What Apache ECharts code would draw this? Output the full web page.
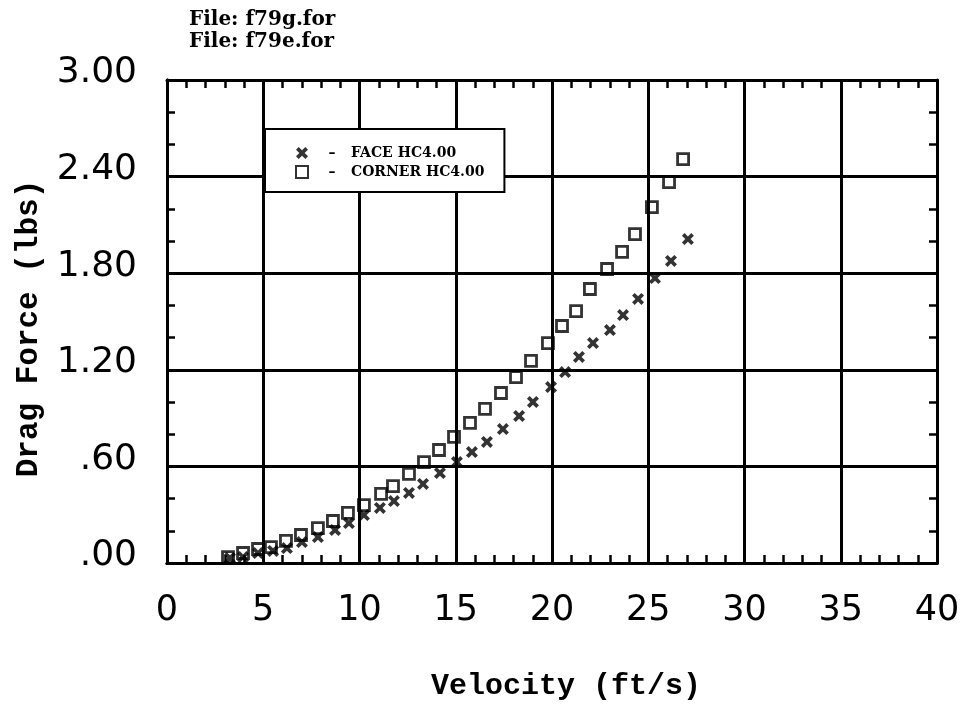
<!DOCTYPE html>
<html>
<head>
<meta charset="utf-8">
<script src="https://cdn.jsdelivr.net/npm/echarts@6/dist/echarts.min.js"></script>
<style>
  html, body { margin: 0; padding: 0; background: #fff; }
  #chart { width: 963px; height: 708px; }
</style>
</head>
<body>
<div id="chart"></div>
<script>
// FACE HC4.00 (x markers)
var faceVelocity = [3.27, 3.95, 4.73, 5.51, 6.23, 7.01, 7.84, 8.73, 9.45, 10.23, 11.06, 11.79, 12.57, 13.30, 14.18, 15.06,
  15.84, 16.62, 17.45, 18.29, 19.01, 19.95, 20.68, 21.40, 22.13, 23.01, 23.69, 24.47, 25.35, 26.18, 27.06];
var faceForce = [0.031, 0.037, 0.062, 0.075, 0.093, 0.130, 0.161, 0.205, 0.248, 0.298, 0.342, 0.385, 0.435, 0.491, 0.559, 0.627,
  0.689, 0.752, 0.832, 0.913, 1.000, 1.093, 1.186, 1.280, 1.366, 1.447, 1.540, 1.640, 1.770, 1.876, 2.012];

// CORNER HC4.00 (open squares)
var cornerVelocity = [3.17, 3.95, 4.73, 5.40, 6.18, 6.96, 7.84, 8.62, 9.40, 10.23, 11.12, 11.74, 12.57, 13.35, 14.13, 14.91,
  15.74, 16.52, 17.35, 18.13, 18.91, 19.79, 20.52, 21.25, 21.97, 22.86, 23.64, 24.31, 25.19, 26.08, 26.81];
var cornerForce = [0.037, 0.062, 0.087, 0.099, 0.137, 0.174, 0.217, 0.261, 0.311, 0.360, 0.429, 0.478, 0.553, 0.627, 0.702, 0.783,
  0.870, 0.957, 1.056, 1.155, 1.255, 1.366, 1.472, 1.565, 1.702, 1.826, 1.932, 2.043, 2.211, 2.366, 2.509];

var yTickLabels = ['.00', '.60', '1.20', '1.80', '2.40', '3.00'];
var xTickLabels = ['0', '5', '10', '15', '20', '25', '30', '35', '40'];

function pairs(xs, ys) {
  var out = [];
  for (var i = 0; i < xs.length; i++) {
    out.push([xs[i], ys[i]]);
  }
  return out;
}

var crossPath = 'path://M0,2.2L2.2,0L5,2.8L7.8,0L10,2.2L7.2,5L10,7.8L7.8,10L5,7.2L2.2,10L0,7.8L2.8,5Z';

var lineBlack = { color: '#000', width: 3 };
var minorStyle = { color: '#000', width: 2.5 };

// frame axis that only carries the small inward ticks
function tickAxis(pos, max, step) {
  return {
    type: 'value',
    min: 0,
    max: max,
    interval: step,
    position: pos,
    axisLine: { show: true, onZero: false, lineStyle: lineBlack },
    axisTick: { show: true, inside: true, length: 8, lineStyle: minorStyle },
    splitLine: { show: false },
    axisLabel: { show: false }
  };
}

var mychart = echarts.init(document.getElementById('chart'));
var option = {
  backgroundColor: '#fff',
  animation: false,
  title: {
    text: 'File: f79g.for\nFile: f79e.for',
    left: 184,
    top: 4,
    textStyle: {
      fontFamily: 'DejaVu Serif',
      fontWeight: 'bold',
      fontSize: 20,
      lineHeight: 22,
      color: '#000'
    }
  },
  grid: {
    left: 167,
    right: 26,
    top: 80,
    bottom: 145
  },
  legend: {
    orient: 'vertical',
    left: 265,
    top: 129,
    padding: [17, 20, 13, 30],
    itemGap: 5,
    itemWidth: 12,
    itemHeight: 12,
    borderColor: '#000',
    borderWidth: 2,
    borderRadius: 0,
    backgroundColor: '#fff',
    data: ['FACE HC4.00', 'CORNER HC4.00'],
    formatter: function (name) {
      return '{d|\u2013}{t|' + name + '}';
    },
    textStyle: {
      fontFamily: 'DejaVu Serif',
      fontWeight: 'bold',
      fontSize: 14,
      color: '#000',
      rich: {
        d: { width: 38, align: 'center', fontFamily: 'DejaVu Serif', fontWeight: 'bold', fontSize: 14, lineHeight: 15 },
        t: { fontFamily: 'DejaVu Serif', fontWeight: 'bold', fontSize: 14, lineHeight: 15 }
      }
    }
  },
  xAxis: [{
    type: 'value',
    min: 0,
    max: 40,
    interval: 5,
    position: 'bottom',
    name: 'Velocity (ft/s)',
    nameLocation: 'middle',
    nameGap: 108,
    nameTextStyle: {
      fontFamily: 'Liberation Mono',
      fontWeight: 'bold',
      fontSize: 30,
      color: '#000',
      padding: [0, 0, 0, 28]
    },
    axisLine: { show: true, onZero: false, lineStyle: lineBlack },
    axisTick: { show: false },
    splitLine: { show: true, lineStyle: lineBlack },
    axisLabel: {
      margin: 30,
      fontFamily: 'DejaVu Sans',
      fontSize: 35,
      color: '#000',
      formatter: function (v, i) { return xTickLabels[i]; }
    }
  },
  tickAxis('top', 40, 1),
  tickAxis('bottom', 40, 1)],
  yAxis: [{
    type: 'value',
    min: 0,
    max: 3,
    interval: 0.6,
    position: 'left',
    name: 'Drag Force (lbs)',
    nameLocation: 'middle',
    nameGap: 122,
    nameTextStyle: {
      fontFamily: 'Liberation Mono',
      fontWeight: 'bold',
      fontSize: 31,
      color: '#000',
      padding: [0, 14, 0, 0]
    },
    axisLine: { show: true, onZero: false, lineStyle: lineBlack },
    axisTick: { show: false },
    splitLine: { show: true, lineStyle: lineBlack },
    axisLabel: {
      margin: 30,
      fontFamily: 'DejaVu Sans',
      fontSize: 36,
      color: '#000',
      verticalAlign: 'bottom',
      lineHeight: 14,
      formatter: function (v, i) { return yTickLabels[i]; }
    }
  },
  tickAxis('right', 3, 0.2),
  tickAxis('left', 3, 0.2)],
  series: [{
    name: 'FACE HC4.00',
    type: 'scatter',
    symbol: crossPath,
    symbolSize: 12,
    itemStyle: { color: '#000' },
    z: 5,
    data: pairs(faceVelocity, faceForce)
  }, {
    name: 'CORNER HC4.00',
    type: 'scatter',
    symbol: 'rect',
    symbolSize: 11,
    itemStyle: { color: 'rgba(255,255,255,0)', borderColor: '#000', borderWidth: 2.8 },
    z: 5,
    data: pairs(cornerVelocity, cornerForce)
  }]
};
window.onresize = mychart.resize;
mychart.setOption(option);
</script>
</body>
</html>
